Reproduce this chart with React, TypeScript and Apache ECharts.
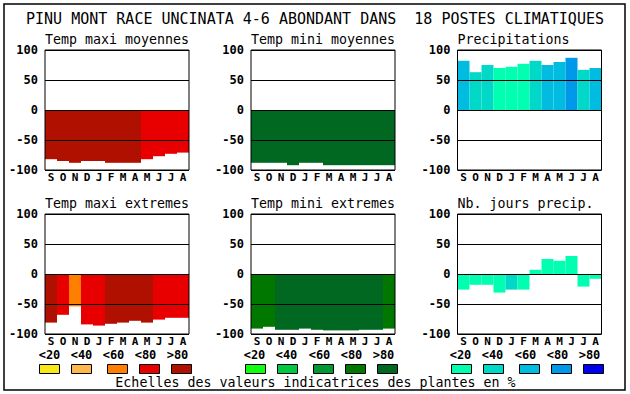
import React, { useEffect, useRef } from "react";
import * as echarts from "echarts";

const months = ["S", "O", "N", "D", "J", "F", "M", "A", "M", "J", "J", "A"];
const classLabels = ["<20", "<40", "<60", "<80", ">80"];
const tempColors = ["#f8e818", "#ffb84c", "#ff8000", "#e80000", "#b01000"];
const minColors = ["#10ff10", "#00c840", "#009830", "#007800", "#006820"];
const precColors = ["#00ffb0", "#00d8c8", "#00bce0", "#0098e8", "#0000f0"];

const tmaxMoy = [-82, -85, -88, -85, -85, -88, -88, -88, -82, -77, -73, -71];
const tmaxMoyCls = [4, 4, 4, 4, 4, 4, 4, 4, 3, 3, 3, 3];
const tminMoy = [-88, -88, -88, -92, -88, -88, -92, -92, -92, -92, -92, -92];
const tminMoyCls = [4, 4, 4, 4, 4, 4, 4, 4, 4, 4, 4, 4];
const prec = [82, 63, 75, 70, 72, 77, 82, 75, 80, 87, 67, 70];
const precCls = [2, 1, 1, 0, 0, 0, 1, 2, 2, 3, 1, 2];
const tmaxExt = [-81, -68, -54, -84, -86, -83, -81, -78, -81, -76, -73, -73];
const tmaxExtCls = [4, 3, 2, 3, 3, 4, 4, 4, 4, 3, 3, 3];
const tminExt = [-91, -88, -93, -93, -91, -93, -94, -94, -94, -93, -93, -91];
const tminExtCls = [3, 3, 4, 4, 4, 4, 4, 4, 4, 4, 4, 3];
const nbJours = [-26, -18, -18, -31, -26, -26, 7, 25, 22, 30, -21, -8];
const nbJoursCls = [0, 0, 0, 0, 1, 0, 0, 0, 0, 0, 0, 0];

const yTicks = [-100, -50, 0, 50, 100];

const panels = [
  { title: "Temp maxi moyennes", values: tmaxMoy, cls: tmaxMoyCls, colors: tempColors },
  { title: "Temp mini moyennes", values: tminMoy, cls: tminMoyCls, colors: minColors },
  { title: "Precipitations", values: prec, cls: precCls, colors: precColors },
  { title: "Temp maxi extremes", values: tmaxExt, cls: tmaxExtCls, colors: tempColors },
  { title: "Temp mini extremes", values: tminExt, cls: tminExtCls, colors: minColors },
  { title: "Nb. jours precip.", values: nbJours, cls: nbJoursCls, colors: precColors },
];

const MONO = "'DejaVu Sans Mono', monospace";

export default function App() {
  const ref = useRef<HTMLDivElement>(null);
  useEffect(() => {
    if (!ref.current) return;
    const chart = echarts.init(ref.current, undefined, { renderer: "svg" });
    const lefts = [45, 251, 457.5];
    const tops = [50, 214];
    const grids: any[] = [];
    const xAxes: any[] = [];
    const yAxes: any[] = [];
    const series: any[] = [];
    const graphics: any[] = [];

    graphics.push({
      type: "rect",
      shape: { x: 4, y: 4, width: 621, height: 386 },
      style: { fill: "none", stroke: "#000", lineWidth: 1.5 },
      z: 100,
    });
    graphics.push({
      type: "text",
      x: 315,
      y: 19,
      style: {
        text: "PINU MONT RACE UNCINATA 4-6 ABONDANT DANS  18 POSTES CLIMATIQUES",
        font: "15px " + MONO,
        fill: "#000",
        align: "center",
        verticalAlign: "middle",
      },
    });

    panels.forEach((p, i) => {
      const col = i % 3;
      const row = Math.floor(i / 3);
      const left = lefts[col];
      const top = tops[row];
      grids.push({
        left,
        top,
        width: 144,
        height: 120,
        show: true,
        borderColor: "#000",
        borderWidth: 1,
        backgroundColor: "transparent",
        z: 10,
      });
      xAxes.push({
        type: "category",
        gridIndex: i,
        data: months,
        axisLine: { show: false },
        axisTick: { show: false },
        axisLabel: {
          interval: 0,
          margin: 2,
          color: "#000",
          fontFamily: MONO,
          fontWeight: "bold",
          fontSize: 11,
        },
        splitLine: { show: false },
      });
      yAxes.push({
        type: "value",
        gridIndex: i,
        min: yTicks[0],
        max: yTicks[yTicks.length - 1],
        interval: 50,
        z: 5,
        axisLine: { show: false },
        axisTick: { show: false },
        axisLabel: {
          margin: 7,
          color: "#000",
          fontFamily: MONO,
          fontWeight: "bold",
          fontSize: 12,
        },
        splitLine: { show: true, lineStyle: { color: "#000", width: 1 } },
      });
      series.push({
        type: "bar",
        xAxisIndex: i,
        yAxisIndex: i,
        barCategoryGap: "0%",
        data: p.values.map((v, k) => ({
          value: v,
          itemStyle: { color: p.colors[p.cls[k]] },
        })),
      });
      graphics.push({
        type: "text",
        x: left,
        y: top - 11,
        style: {
          text: p.title,
          font: "13.3px " + MONO,
          fill: "#000",
          align: "left",
          verticalAlign: "middle",
        },
      });
    });

    const labelCenters = [
      [49.5, 81.5, 113.5, 145.5, 177.5],
      [254.5, 286.5, 319.5, 351.5, 383.5],
      [460.5, 492.5, 525.5, 557.5, 589.5],
    ];
    const boxLefts = [
      [39, 71, 107, 139, 171],
      [245, 277, 313, 345, 377],
      [451, 483, 519, 551, 583],
    ];
    const groupColors = [tempColors, minColors, precColors];
    for (let g = 0; g < 3; g++) {
      for (let k = 0; k < 5; k++) {
        graphics.push({
          type: "text",
          x: labelCenters[g][k],
          y: 354.5,
          style: {
            text: classLabels[k],
            font: "bold 12px " + MONO,
            fill: "#000",
            align: "center",
            verticalAlign: "middle",
          },
        });
        graphics.push({
          type: "rect",
          shape: { x: boxLefts[g][k] + 0.5, y: 364.5, width: 20, height: 9 },
          style: { fill: groupColors[g][k], stroke: "#000", lineWidth: 1 },
        });
      }
    }
    graphics.push({
      type: "text",
      x: 315.5,
      y: 382.5,
      style: {
        text: "Echelles des valeurs indicatrices des plantes en %",
        font: "13.3px " + MONO,
        fill: "#000",
        align: "center",
        verticalAlign: "middle",
      },
    });

    chart.setOption({
      animation: false,
      backgroundColor: "#fff",
      grid: grids,
      xAxis: xAxes,
      yAxis: yAxes,
      series,
      graphic: graphics,
    });
    return () => chart.dispose();
  }, []);
  return (
    <div
      ref={ref}
      style={{ position: "fixed", left: 0, top: 0, width: 630, height: 394 }}
    />
  );
}
